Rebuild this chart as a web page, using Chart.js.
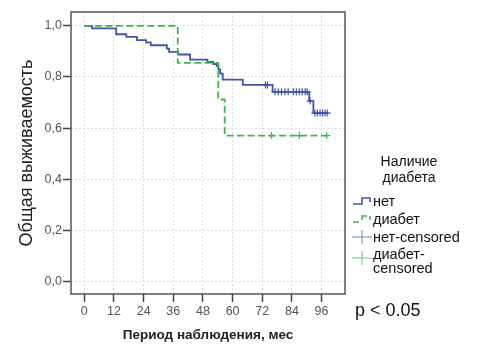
<!DOCTYPE html>
<html>
<head>
<meta charset="utf-8">
<script src="https://cdn.jsdelivr.net/npm/chart.js@4.4.1/dist/chart.umd.min.js"></script>
<style>
  html, body { margin: 0; padding: 0; background: #fff; }
  canvas { display: block; }
</style>
</head>
<body>
<canvas id="kmChart" width="477" height="345"></canvas>
<script>
// Kaplan-Meier curves (time in months, survival share)
const noTimes = [0, 3.1, 12.9, 17, 21.3, 25, 26.9, 33.4, 34.3, 38, 42.8, 49.8, 52.2, 53.6, 54.3, 55, 56, 64.1, 76.2, 91, 92.7, 98.3];
const noSurv  = [1, 0.99, 0.967, 0.957, 0.944, 0.935, 0.924, 0.911, 0.898, 0.888, 0.868, 0.859, 0.85, 0.843, 0.829, 0.813, 0.79, 0.769, 0.742, 0.706, 0.659, 0.659];

const diabTimes = [0, 37.8, 54.2, 56.8, 98.1];
const diabSurv  = [1, 0.855, 0.712, 0.571, 0.571];

// censored observations
const noCensT = [73.3, 74.1, 77.2, 78.5, 79.8, 81.2, 82.5, 84.6, 85.8, 87, 88.2, 89.4, 90.2, 91.4, 93.3, 94.3, 95.4, 96.4, 97.4, 98.3];
const noCensS = [0.769, 0.769, 0.742, 0.742, 0.742, 0.742, 0.742, 0.742, 0.742, 0.742, 0.742, 0.742, 0.742, 0.706, 0.659, 0.659, 0.659, 0.659, 0.659, 0.659];
const diabCensT = [75.8, 87, 98.1];
const diabCensS = [0.571, 0.571, 0.571];

const xTicks = [0, 12, 24, 36, 48, 60, 72, 84, 96];
const yTicks = [0, 0.2, 0.4, 0.6, 0.8, 1.0];

const legendTitle = ['Наличие', 'диабета'];
const legendLabels = ['нет', 'диабет', 'нет-censored', ['диабет-', 'censored']];

const BLUE = '#3f55aa';
const GREEN = '#3cb54a';
const FONT = '"Liberation Sans", Arial, sans-serif';

const pts = (xs, ys) => xs.map((x, i) => ({ x: x, y: ys[i] }));

const frameAndLegend = {
  id: 'frameAndLegend',
  afterDraw(chart) {
    const { ctx, chartArea: a } = chart;
    ctx.save();
    // plot frame
    ctx.strokeStyle = '#555';
    ctx.lineWidth = 1.5;
    ctx.strokeRect(a.left, a.top, a.right - a.left, a.bottom - a.top);

    // legend title
    ctx.fillStyle = '#111';
    ctx.font = '14px ' + FONT;
    ctx.textAlign = 'center';
    ctx.textBaseline = 'middle';
    ctx.fillText(legendTitle[0], 409, 162);
    ctx.fillText(legendTitle[1], 409, 178);

    // legend items
    ctx.textAlign = 'left';
    const tx = 373;
    const rows = [201, 219, 237, 255];
    ctx.lineWidth = 1.6;

    // нет : step icon
    ctx.strokeStyle = BLUE;
    ctx.beginPath();
    ctx.moveTo(353, rows[0] + 3);
    ctx.lineTo(362, rows[0] + 3);
    ctx.lineTo(362, rows[0] - 3);
    ctx.lineTo(370, rows[0] - 3);
    ctx.lineTo(370, rows[0] + 1);
    ctx.stroke();

    // диабет : dashed step icon
    ctx.strokeStyle = GREEN;
    ctx.beginPath();
    ctx.moveTo(353, rows[1] + 3);
    ctx.lineTo(359, rows[1] + 3);
    ctx.moveTo(362, rows[1] + 1);
    ctx.lineTo(362, rows[1] - 3);
    ctx.lineTo(367, rows[1] - 3);
    ctx.moveTo(370, rows[1] - 3);
    ctx.lineTo(370, rows[1] + 1);
    ctx.stroke();

    // censored plus icons
    ctx.lineWidth = 1;
    ctx.strokeStyle = '#6f80c4';
    ctx.beginPath();
    ctx.moveTo(352, rows[2]); ctx.lineTo(372, rows[2]);
    ctx.moveTo(362, rows[2] - 7); ctx.lineTo(362, rows[2] + 7);
    ctx.stroke();
    ctx.strokeStyle = '#6cc878';
    ctx.beginPath();
    ctx.moveTo(352, rows[3] + 3); ctx.lineTo(372, rows[3] + 3);
    ctx.moveTo(362, rows[3] - 4); ctx.lineTo(362, rows[3] + 10);
    ctx.stroke();

    ctx.fillStyle = '#111';
    ctx.font = '14.5px ' + FONT;
    ctx.fillText(legendLabels[0], tx, rows[0] + 1);
    ctx.fillText(legendLabels[1], tx, rows[1] + 1);
    ctx.fillText(legendLabels[2], tx, rows[2] + 1);
    ctx.fillText(legendLabels[3][0], tx, rows[3]);
    ctx.fillText(legendLabels[3][1], tx, rows[3] + 14);

    // p value
    ctx.font = '18px ' + FONT;
    ctx.fillText('p < 0.05', 355, 311);
    ctx.restore();
  }
};

new Chart(document.getElementById('kmChart'), {
  type: 'line',
  data: {
    datasets: [
      {
        label: 'диабет',
        data: pts(diabTimes, diabSurv),
        stepped: 'before',
        borderColor: GREEN,
        borderWidth: 1.8,
        borderDash: [7, 3.5],
        pointRadius: 0,
        fill: false
      },
      {
        label: 'нет',
        data: pts(noTimes, noSurv),
        stepped: 'before',
        borderColor: BLUE,
        borderWidth: 1.8,
        pointRadius: 0,
        fill: false
      },
      {
        label: 'нет-censored',
        data: pts(noCensT, noCensS),
        showLine: false,
        pointStyle: 'cross',
        pointRadius: 3.5,
        pointBorderWidth: 1.2,
        borderColor: BLUE,
        backgroundColor: BLUE
      },
      {
        label: 'диабет-censored',
        data: pts(diabCensT, diabCensS),
        showLine: false,
        pointStyle: 'cross',
        pointRadius: 3.5,
        pointBorderWidth: 1.2,
        borderColor: GREEN,
        backgroundColor: GREEN
      }
    ]
  },
  options: {
    responsive: false,
    animation: false,
    devicePixelRatio: 1,
    layout: { padding: { top: 12, right: 132, left: 0, bottom: 0 } },
    plugins: {
      legend: { display: false },
      tooltip: { enabled: false }
    },
    scales: {
      x: {
        type: 'linear',
        min: -5.4,
        max: 105.5,
        afterBuildTicks: s => { s.ticks = xTicks.map(v => ({ value: v })); },
        afterFit: s => { s.height = 51; },
        ticks: {
          color: '#555',
          font: { family: FONT, size: 12.5 },
          padding: 2,
          maxRotation: 0,
          autoSkip: false
        },
        grid: {
          color: '#dcdcdc',
          lineWidth: 1,
          tickColor: '#444',
          tickLength: 8,
          tickWidth: 1.5
        },
        border: { display: false, dash: [2, 2] },
        title: {
          display: true,
          text: 'Период наблюдения, мес',
          color: '#222',
          font: { family: FONT, size: 13.5, weight: 'bold' },
          padding: { top: 0, bottom: 2 }
        }
      },
      y: {
        type: 'linear',
        min: -0.048,
        max: 1.054,
        afterBuildTicks: s => { s.ticks = yTicks.map(v => ({ value: v })); },
        afterFit: s => { s.width = 71; },
        ticks: {
          color: '#555',
          font: { family: FONT, size: 12.5 },
          padding: 1,
          callback: v => v.toFixed(1).replace('.', ',')
        },
        grid: {
          color: '#dcdcdc',
          lineWidth: 1,
          tickColor: '#444',
          tickLength: 8,
          tickWidth: 1.5
        },
        border: { display: false, dash: [2, 2] },
        title: {
          display: true,
          text: 'Общая выживаемость',
          color: '#222',
          font: { family: FONT, size: 18 },
          padding: { top: 16, bottom: 0 }
        }
      }
    }
  },
  plugins: [frameAndLegend]
});
</script>
</body>
</html>
